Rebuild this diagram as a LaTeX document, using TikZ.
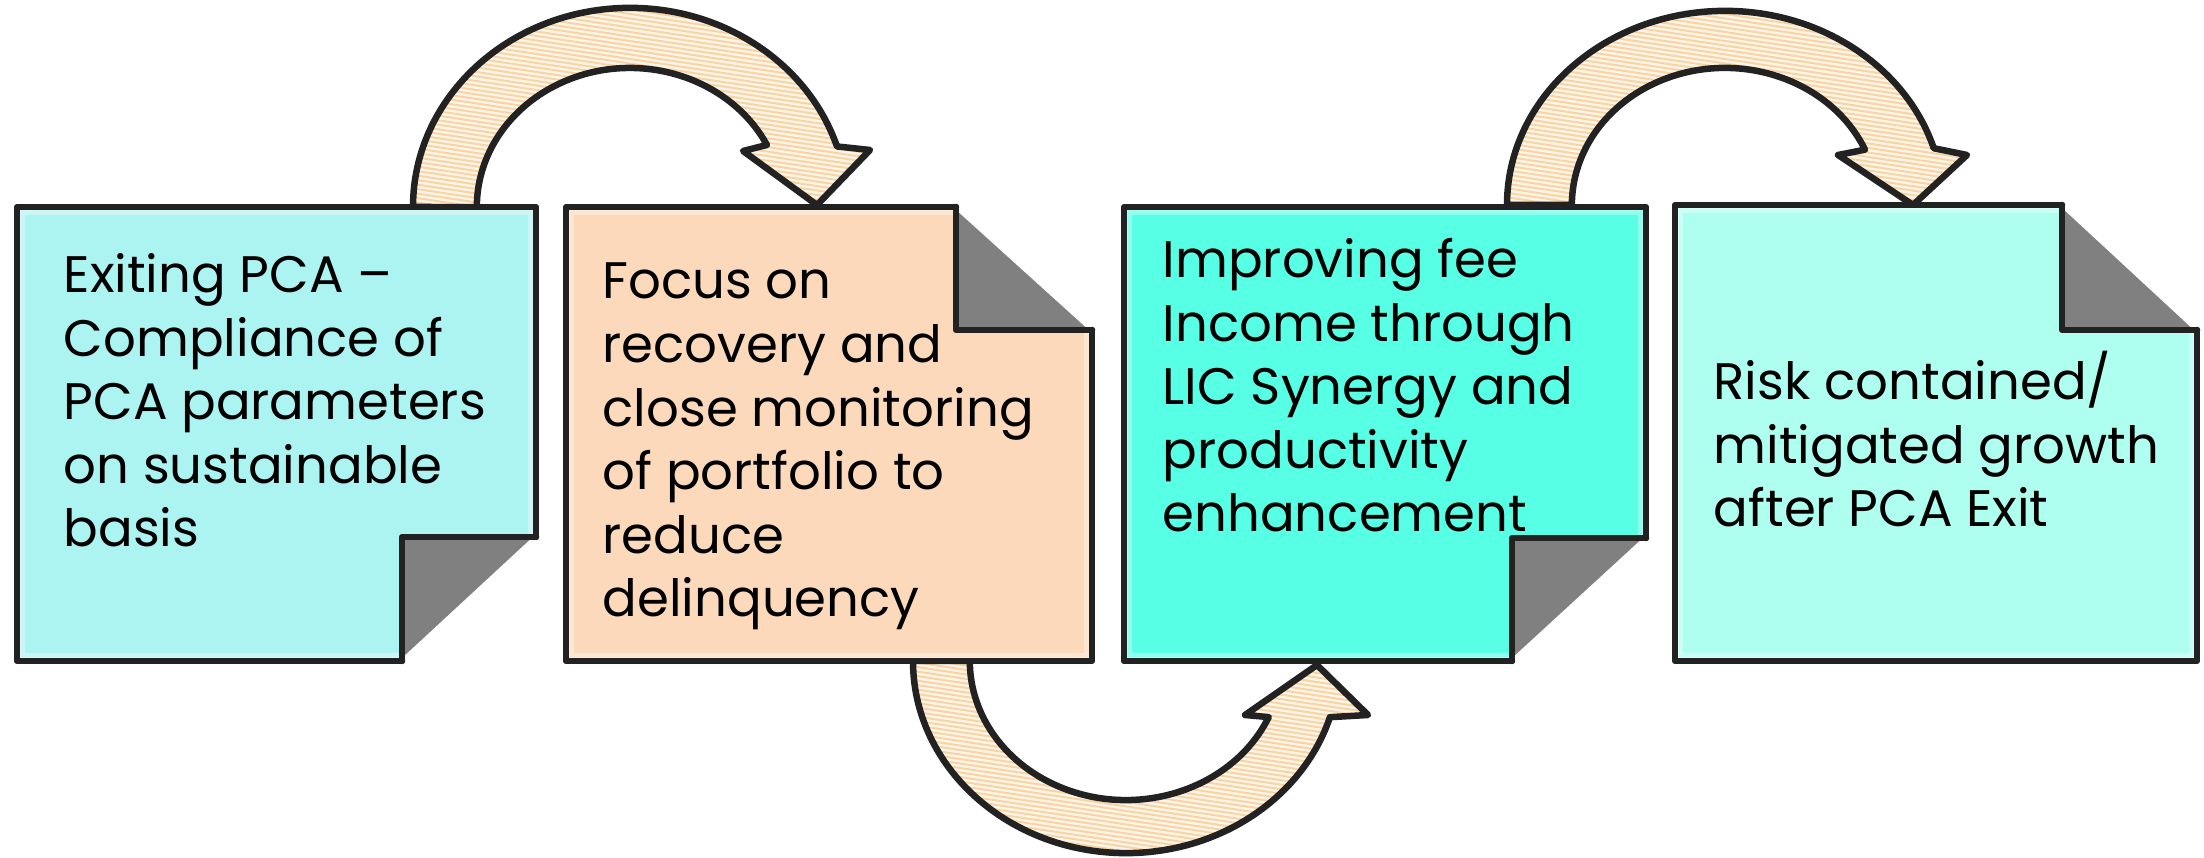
\documentclass[tikz,border=0pt]{standalone}
\usepackage{fontspec}
\setmainfont{Poppins}
\definecolor{inkc}{HTML}{222222}
\definecolor{cOne}{HTML}{ACF4F1}
\definecolor{cTwo}{HTML}{FCD9BA}
\definecolor{cThree}{HTML}{57FFE5}
\definecolor{cFour}{HTML}{AEFFF0}
\definecolor{flapgray}{HTML}{808080}
\definecolor{arrowfillc}{HTML}{FEF5EA}
\definecolor{hatchc}{HTML}{F9D3A0}
\tikzset{
  outline/.style={draw=inkc, line width=0.065cm, line join=round, line cap=round},
  txt/.style={font=\fontsize{14.6}{18.1}\selectfont, align=left, inner sep=0pt, anchor=base west, text=black},
  hatchline/.style={draw=hatchc, line width=0.55pt},
}
% arrow outlines (y axis upward, 1 unit = 1 px of the 2204x858 reference)
\newcommand\arrowApath{(413,651) arc[start angle=180, end angle=17.7, x radius=2.17cm, y radius=1.99cm] -- (870,708) -- (817,653) -- (743,707) -- (766.9,713) arc[start angle=26.5, end angle=180, x radius=1.53cm, y radius=1.39cm] -- cycle}
\newcommand\arrowBpath{(1507,653) arc[start angle=180, end angle=17, x radius=2.18cm, y radius=1.94cm] -- (1967,703) -- (1913,653) -- (1838,703) -- (1865,708.3) arc[start angle=23.8, end angle=180, x radius=1.53cm, y radius=1.37cm] -- cycle}
\newcommand\arrowCpath{(913,197) arc[start angle=180, end angle=343, x radius=2.13cm, y radius=1.92cm] -- (1368,143) -- (1317,193) -- (1245,143) -- (1268.7,140.9) arc[start angle=336.2, end angle=180, x radius=1.56cm, y radius=1.39cm] -- cycle}
% #1 path, #2 xmin, #3 xmax, #4 ymin, #5 number of hatch lines
\newcommand\bigarrow[5]{%
  \fill[arrowfillc] #1;
  \begin{scope}
    \clip #1;
    \foreach \k in {0,...,#5}
      \draw[hatchline] (#2,{#4+4.5*\k}) -- (#3,{#4+4.5*\k-0.15*(#3-#2)});
  \end{scope}
  \draw[outline] #1;
}
% note with fold at bottom right: #1 L, #2 B, #3 R, #4 T, #5 flap x, #6 flap y, #7 colour
\newcommand\notebr[7]{%
  \fill[#7] (#1,#4) -- (#3,#4) -- (#3,#6) -- (#5,#2) -- (#1,#2) -- cycle;
  \begin{scope}
    \clip (#1,#4) -- (#3,#4) -- (#3,#6) -- (#5,#2) -- (#1,#2) -- cycle;
    \draw[white, opacity=0.35, line width=0.16cm] (#1,#4) -- (#3,#4) -- (#3,#6) -- (#5,#2) -- (#1,#2) -- cycle;
    \draw[white, opacity=0.5, line width=0.07cm] (#1,#4) -- (#3,#4) -- (#3,#6) -- (#5,#2) -- (#1,#2) -- cycle;
  \end{scope}
  \fill[flapgray] (#5,#2) -- (#5,#6) -- (#3,#6) -- cycle;
  \draw[white, line width=1.2pt] (#5,#2) -- (#3,#6);
  \draw[outline] (#5,#2) -- (#1,#2) -- (#1,#4) -- (#3,#4) -- (#3,#6);
  \draw[outline] (#5,#2) -- (#5,#6) -- (#3,#6);
}
% note with fold at top right
\newcommand\notetr[7]{%
  \fill[#7] (#1,#4) -- (#5,#4) -- (#3,#6) -- (#3,#2) -- (#1,#2) -- cycle;
  \begin{scope}
    \clip (#1,#4) -- (#5,#4) -- (#3,#6) -- (#3,#2) -- (#1,#2) -- cycle;
    \draw[white, opacity=0.35, line width=0.16cm] (#1,#4) -- (#5,#4) -- (#3,#6) -- (#3,#2) -- (#1,#2) -- cycle;
    \draw[white, opacity=0.5, line width=0.07cm] (#1,#4) -- (#5,#4) -- (#3,#6) -- (#3,#2) -- (#1,#2) -- cycle;
  \end{scope}
  \fill[flapgray] (#5,#4) -- (#5,#6) -- (#3,#6) -- cycle;
  \draw[white, line width=1.2pt] (#5,#4) -- (#3,#6);
  \draw[outline] (#5,#4) -- (#1,#4) -- (#1,#2) -- (#3,#2) -- (#3,#6);
  \draw[outline] (#5,#4) -- (#5,#6) -- (#3,#6);
}
\begin{document}
\begin{tikzpicture}[x=0.01cm, y=0.01cm]
\useasboundingbox (0,0) rectangle (2204,858);
\fill[white] (0,0) rectangle (2204,858);

% curved arrows (behind the notes)
\bigarrow{\arrowApath}{400}{880}{640}{65}
\bigarrow{\arrowBpath}{1495}{1975}{640}{65}
\bigarrow{\arrowCpath}{900}{1380}{0}{65}

% notes
\notebr{17}{197}{536}{651}{402}{321}{cOne}
\notetr{566}{197}{1092}{651}{956}{528}{cTwo}
\notebr{1124}{197}{1646}{651}{1512}{320}{cThree}
\notetr{1675}{197}{2197}{653}{2062}{528}{cFour}

% texts (anchored at the baseline of their last line)
\node[txt] (t1) at (63,311) {Exiting PCA –\\Compliance of\\PCA parameters\\on sustainable\\basis};
\node[txt] (t2) at (602,241) {Focus on\\recovery and\\close monitoring\\of portfolio to\\reduce\\delinquency};
\node[txt] (t3) at (1162,326) {Improving fee\\Income through\\LIC Synergy and\\productivity\\enhancement};
\node[txt] (t4) at (1713,331) {Risk contained/\\mitigated growth\\after PCA Exit};
\end{tikzpicture}
\end{document}
